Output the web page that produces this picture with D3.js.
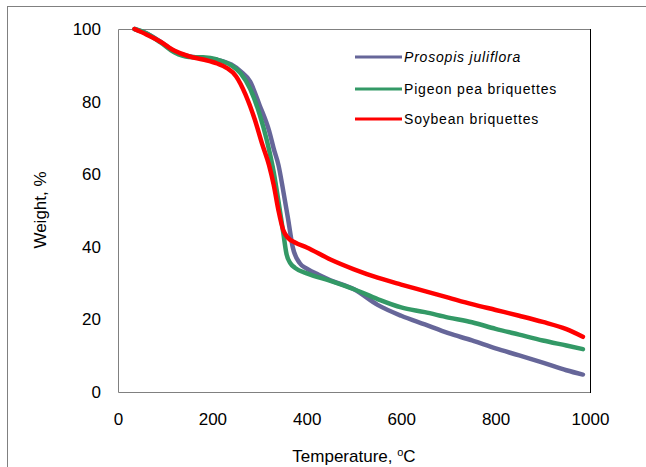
<!DOCTYPE html>
<html>
<head>
<meta charset="utf-8">
<script src="https://cdn.jsdelivr.net/npm/d3@7"></script>
<style>
  body { margin: 0; background: #fff; }
  text { font-family: "Liberation Sans", Arial, sans-serif; fill: #000; }
</style>
</head>
<body>
<div id="chart"></div>
<script>
// TGA curves
var prosopisT = [35, 60, 90, 120, 150, 180, 210, 240, 260, 280, 300, 320, 330, 340, 350, 360, 370, 385, 400, 425, 450, 500, 550, 600, 650, 700, 750, 800, 850, 900, 950, 985];
var prosopisW = [100, 98.8, 96.5, 93.8, 92.5, 92, 91.5, 90.2, 88.3, 85.5, 79, 72, 67, 62.5, 55.5, 48, 40, 35.5, 34, 32.3, 30.8, 28.3, 24, 21, 18.6, 16.2, 14.2, 12, 10.1, 8.1, 6, 4.8];

var pigeonT = [35, 60, 90, 120, 150, 180, 210, 240, 260, 280, 300, 315, 330, 340, 350, 357, 365, 375, 400, 450, 500, 550, 600, 650, 700, 750, 800, 850, 900, 950, 985];
var pigeonW = [100, 98.8, 96.3, 93.5, 92.3, 92.2, 91.6, 90, 87.8, 83.5, 76.5, 69.5, 60.5, 52.5, 44, 38, 35.5, 34.2, 32.7, 30.6, 28.3, 25.6, 23.3, 22, 20.5, 19.2, 17.4, 15.8, 14.2, 12.8, 11.8];

var soybeanT = [35, 60, 90, 120, 150, 180, 210, 230, 250, 270, 290, 305, 320, 330, 340, 350, 360, 375, 400, 450, 500, 550, 600, 650, 700, 750, 800, 850, 900, 950, 985];
var soybeanW = [100, 98.5, 96.5, 94, 92.5, 91.6, 90.5, 89.3, 87, 82, 75, 68.5, 62.5, 57, 50, 44.6, 42.5, 41.2, 39.8, 36.5, 33.8, 31.5, 29.6, 27.8, 26, 24.2, 22.6, 21, 19.3, 17.3, 15.2];

var seriesNames = ["Prosopis juliflora", "Pigeon pea briquettes", "Soybean briquettes"];
var seriesColors = ["#666699", "#339966", "#ff0000"];
var xTicks = [0, 200, 400, 600, 800, 1000];
var yTicks = [0, 20, 40, 60, 80, 100];

var width = 646, height = 467,
  margin = {left: 118, right: 56, top: 29, bottom: 75};

var svg = d3.select("#chart").append("svg")
  .attr("width", width)
  .attr("height", height);

svg.append("rect").attr("width", width).attr("height", height).attr("fill", "#fff");

// outer chart frame (runs off the right / bottom edge)
svg.append("rect")
  .attr("x", 7.5).attr("y", 6.5)
  .attr("width", 700).attr("height", 600)
  .attr("fill", "none").attr("stroke", "#808080").attr("stroke-width", 1);

var x = d3.scaleLinear().domain([0, 1000]).range([margin.left, width - margin.right]);
var y = d3.scaleLinear().domain([0, 100]).range([height - margin.bottom, margin.top]);

// plot area border
var x0 = x(0), x1 = x(1000), y0 = y(100), y1 = y(0);
svg.append("path")
  .attr("d", "M" + (x1 + 0.5) + "," + (y0 + 0.5) + "H" + (x0 + 0.5) + "V" + (y1 + 0.5) + "H" + (x1 + 0.5))
  .attr("fill", "none").attr("stroke", "#808080");
svg.append("line")
  .attr("x1", x1 + 0.5).attr("x2", x1 + 0.5).attr("y1", y0).attr("y2", y1 + 1)
  .attr("stroke", "#000");

var xAxis = svg.append("g")
  .attr("transform", "translate(0," + y1 + ")")
  .call(d3.axisBottom(x).tickValues(xTicks).tickFormat(d3.format("d")).tickSize(0).tickPadding(21));
var yAxis = svg.append("g")
  .attr("transform", "translate(" + x0 + ",0)")
  .call(d3.axisLeft(y).tickValues(yTicks).tickFormat(d3.format("d")).tickSize(0).tickPadding(17));
[xAxis, yAxis].forEach(function (a) {
  a.select(".domain").remove();
  a.selectAll("text").style("font-size", "17px").style("font-family", "'Liberation Sans', Arial, sans-serif").attr("fill", "#000");
});

// curves
var data = [
  {name: seriesNames[0], t: prosopisT, w: prosopisW},
  {name: seriesNames[1], t: pigeonT, w: pigeonW},
  {name: seriesNames[2], t: soybeanT, w: soybeanW}
];
var line = d3.line()
  .x(function (d) { return x(d[0]); })
  .y(function (d) { return y(d[1]); })
  .curve(d3.curveMonotoneX);

svg.selectAll(".curve")
  .data(data)
  .enter().append("path")
  .attr("class", "curve")
  .attr("d", function (d) { return line(d.t.map(function (t, i) { return [t, d.w[i]]; })); })
  .attr("fill", "none")
  .attr("stroke", function (d, i) { return seriesColors[i]; })
  .attr("stroke-width", 4.5)
  .attr("stroke-linejoin", "round")
  .attr("stroke-linecap", "round");

// legend
var legendY = [57, 89, 119];
var legend = svg.selectAll(".legend")
  .data(data)
  .enter().append("g")
  .attr("class", "legend")
  .attr("transform", function (d, i) { return "translate(355," + legendY[i] + ")"; });
legend.append("line")
  .attr("x1", 0).attr("x2", 47)
  .attr("stroke", function (d, i) { return seriesColors[i]; })
  .attr("stroke-width", 3);
legend.append("text")
  .attr("x", 49).attr("dy", "0.35em")
  .style("font-size", "14px")
  .style("letter-spacing", "0.8px")
  .style("font-style", function (d, i) { return i === 0 ? "italic" : "normal"; })
  .text(function (d) { return d.name; });

// axis titles
svg.append("text")
  .attr("transform", "translate(46,210) rotate(-90)")
  .attr("text-anchor", "middle")
  .style("font-size", "17px")
  .text("Weight, %");

var xt = svg.append("text")
  .attr("x", 354).attr("y", 462)
  .attr("text-anchor", "middle")
  .style("font-size", "17px");
xt.append("tspan").text("Temperature, ");
xt.append("tspan").attr("dy", -6).style("font-size", "11px").text("o");
xt.append("tspan").attr("dy", 6).text("C");
</script>
</body>
</html>
